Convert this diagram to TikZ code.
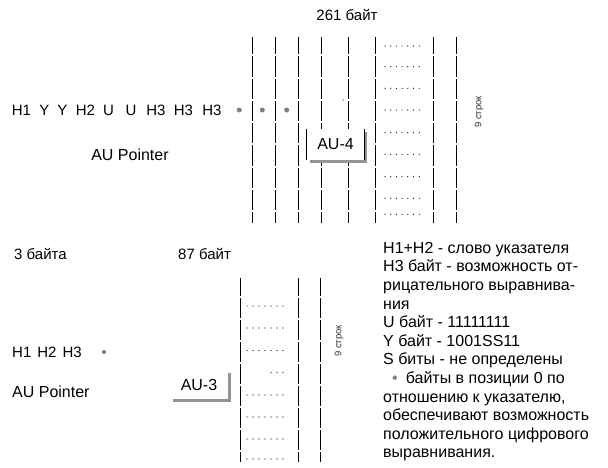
\documentclass[tikz,border=0pt]{standalone}
\usepackage{fontspec}
\setmainfont{Liberation Sans}
\usetikzlibrary{shadows}
\begin{document}
\begin{tikzpicture}[x=1pt, y=-1pt,
  lbl/.style = {inner sep=0pt, font=\fontsize{15}{18}\selectfont},
  big/.style = {inner sep=0pt, font=\fontsize{16}{18.6}\selectfont},
  col/.style = {line width=1.1pt},
  gdot/.style = {circle, fill=gray, inner sep=0pt, minimum size=5pt},
  rot/.style = {rotate=90, inner sep=0pt, text=black!80, font=\fontsize{9.5}{11}\selectfont},
  aubox/.style = {fill=white, inner sep=0pt, minimum width=57pt, minimum height=31pt,
    font=\fontsize{16}{18}\selectfont,
    drop shadow={shadow xshift=3pt, shadow yshift=-3pt, fill=gray!85, opacity=1}}]
\useasboundingbox (0,0) rectangle (608,467);

% STM-1 block, top
\node[lbl] (top) at (347,15) {261 байт};
\foreach \x in {252.7,275.7,298.3,321.3,348.3,375.7,433.3,456.7}
  \foreach \a/\b in {37/54,56/76.7,78.7/99,101/121,123/143,145/166,168/188,190/210,212/223}
    \draw[col] (\x,\a) -- (\x,\b);
\foreach \y in {46,66.7,88.3,110,132.7,154.3,176.7,198.3,214.3}
  \foreach \i in {0,...,6}
    \fill (385+\i*5.7,\y) circle (0.6);
\fill (343,100) circle (0.6);
\foreach \t/\x [count=\i] in {H1/21.5,Y/44.5,Y/62.5,H2/85.5,U/108.5,U/131,H3/156,H3/183.5,H3/212}
  \node[lbl] (tok\i) at (\x,110) {\t};
\foreach \x [count=\i] in {239.3,262.3,286.7}
  \node[gdot] (d\i) at (\x,110) {};
\node[big] (ptr) at (130,155) {AU Pointer};
\node[aubox] (au4) at (335.5,144.5) {AU-4};
\draw[line width=1pt] (au4.north west) -- (au4.south west) (au4.north east) -- (au4.south east);
\node[rot] (rows) at (479,112) {9 строк};

% AU-3 block, bottom
\node[lbl, anchor=west] (b3) at (14,254) {3 байта};
\node[lbl, anchor=west] (b87) at (178,254) {87 байт};
\foreach \x in {240.7,298.3,320.7}
  \foreach \a/\b in {278/296,298/317.5,319.5/340,342/362,364/384,386/406,408/428,430/450,452/462}
    \draw[col] (\x,\a) -- (\x,\b);
\foreach \y in {306,328,350.5,395,417,439,459}
  \foreach \i in {0,...,6}
    \fill (247+\i*6,\y) circle (0.6);
\foreach \i in {0,1,2}
  \fill (271+\i*6,372.5) circle (0.6);
\node[lbl, anchor=west] (h123) at (12,352) {H1\hspace{6pt}H2\hspace{6pt}H3};
\node[gdot, minimum size=4pt] (d4) at (104,352) {};
\node[big, anchor=west] (ptr2) at (12,392) {AU Pointer};
\node[aubox, minimum width=58pt, minimum height=29pt] (au3) at (199,384.5) {AU-3};
\node[rot] (rows2) at (339,341) {9 строк};

% notes
\node[big, anchor=north west, align=left] (note) at (383,242) {H1+H2 - слово указателя\\
  H3 байт - возможность от-\\
  рицательного выравнива-\\
  ния\\
  U байт - 11111111\\
  Y байт - 1001SS11\\
  S биты - не определены\\
  \hspace*{9pt}{\color{gray}•}\hspace{8pt}байты в позиции 0 по\\
  отношению к указателю,\\
  обеспечивают возможность\\
  положительного цифрового\\
  выравнивания.};
\end{tikzpicture}
\end{document}
